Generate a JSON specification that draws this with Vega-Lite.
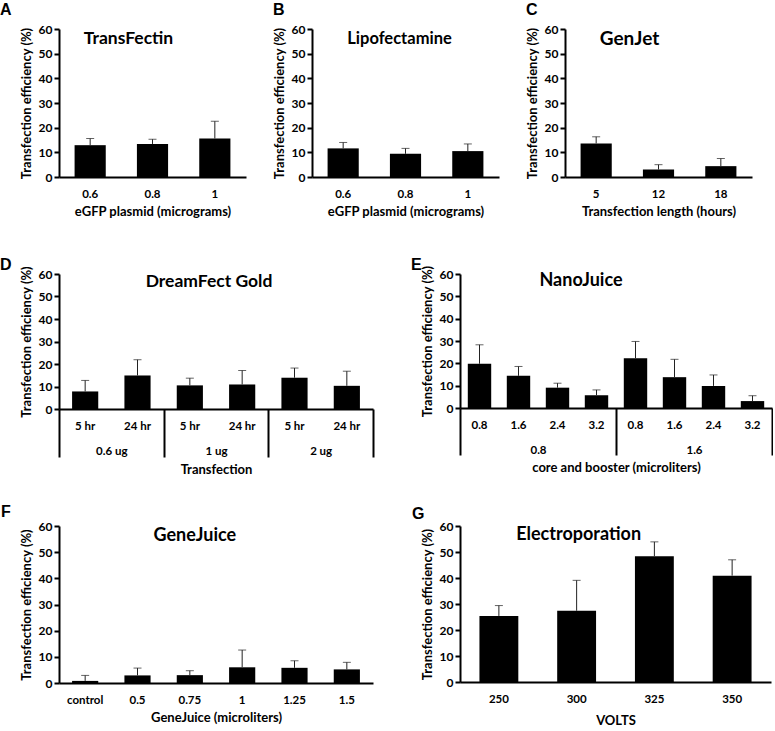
{
  "$schema": "https://vega.github.io/schema/vega-lite/v6.json",
  "padding": {"left": 0, "top": 2, "right": 0, "bottom": 0},
  "background": "white",
  "datasets": {
    "A": [{"x":"0.6","v":12.9,"e":15.6},{"x":"0.8","v":13.4,"e":15.3},{"x":"1","v":15.6,"e":22.6}],
    "B": [{"x":"0.6","v":11.6,"e":14.0},{"x":"0.8","v":9.4,"e":11.6},{"x":"1","v":10.5,"e":13.4}],
    "C": [{"x":"5","v":13.6,"e":16.3},{"x":"12","v":3.0,"e":5.0},{"x":"18","v":4.4,"e":7.5}],
    "D": [{"x":"0.6 ug|5 hr","v":7.8,"e":12.7},{"x":"0.6 ug|24 hr","v":14.9,"e":21.9},{"x":"1 ug|5 hr","v":10.5,"e":13.7},{"x":"1 ug|24 hr","v":10.9,"e":17.1},{"x":"2 ug|5 hr","v":13.9,"e":18.2},{"x":"2 ug|24 hr","v":10.3,"e":16.8}],
    "E": [{"x":"0.8|0.8","v":19.8,"e":28.3},{"x":"0.8|1.6","v":14.4,"e":18.6},{"x":"0.8|2.4","v":9.1,"e":11.1},{"x":"0.8|3.2","v":5.7,"e":8.1},{"x":"1.6|0.8","v":22.3,"e":29.8},{"x":"1.6|1.6","v":13.8,"e":21.8},{"x":"1.6|2.4","v":9.9,"e":14.8},{"x":"1.6|3.2","v":3.1,"e":5.5}],
    "F": [{"x":"control","v":0.8,"e":2.9},{"x":"0.5","v":2.9,"e":5.7},{"x":"0.75","v":3.0,"e":4.7},{"x":"1","v":6.0,"e":12.6},{"x":"1.25","v":5.8,"e":8.5},{"x":"1.5","v":5.2,"e":7.9}],
    "G": [{"x":"250","v":25.4,"e":29.4},{"x":"300","v":27.4,"e":39.1},{"x":"325","v":48.4,"e":53.9},{"x":"350","v":40.9,"e":47.0}]
  },
  "config": {
    "view": {"stroke": null},
    "font": "Lato",
    "axis": {"grid": false, "domainColor": "#000", "domainWidth": 2, "tickColor": "#000", "tickWidth": 2, "labelColor": "#000", "labelFont": "Lato", "labelFontWeight": "bold", "labelFontSize": 11.5, "titleColor": "#000", "titleFont": "Lato", "titleFontWeight": "bold", "titleFontSize": 13},
    "axisX": {"ticks": false, "labelAngle": 0, "labelPadding": 11, "titlePadding": 6},
    "axisY": {"tickSize": 5, "labelPadding": 2, "titlePadding": 5, "tickCount": 6, "labelFontSize": 12},
    "title": {"font": "Liberation Sans", "fontSize": 16, "fontWeight": "bold", "color": "#000", "anchor": "start", "frame": "group", "baseline": "alphabetic"},
    "text": {"font": "Lato", "fontWeight": "bold", "color": "#000", "baseline": "middle"}
  },
  "spacing": 37,
  "vconcat": [
    {
      "hconcat": [
        {
          "width": 187, "height": 148,
          "title": {"text": "A", "dx": -59, "offset": 5},
          "layer": [
            {
              "data": {"name": "A"},
              "encoding": {
                "x": {"field": "x", "type": "nominal", "scale": {"domain": ["0.6","0.8","1"], "paddingInner": 0.5, "paddingOuter": 0.25}, "axis": {"title": "eGFP plasmid (micrograms)"}},
                "y": {"field": "v", "type": "quantitative", "scale": {"domain": [0, 60]}, "axis": {"title": "Transfection efficiency (%)"}}
              },
              "layer": [
                {"mark": {"type": "bar", "color": "#000"}},
                {"mark": {"type": "rule", "color": "#222", "strokeWidth": 1}, "encoding": {"y2": {"field": "e"}}},
                {"mark": {"type": "tick", "color": "#222", "thickness": 1, "size": 8}, "encoding": {"y": {"field": "e", "type": "quantitative"}}}
              ]
            },
            {
              "data": {"values": [{"x": "0.8", "label": "TransFectin"}]},
              "mark": {"type": "text", "dx": -24, "fontSize": 17.5},
              "encoding": {
                "x": {"field": "x", "type": "nominal", "scale": {"domain": ["0.6","0.8","1"], "paddingInner": 0.5, "paddingOuter": 0.25}},
                "y": {"datum": 56, "type": "quantitative"},
                "text": {"field": "label"}
              }
            }
          ]
        },
        {
          "width": 187, "height": 148,
          "title": {"text": "B", "dx": -39, "offset": 5},
          "layer": [
            {
              "data": {"name": "B"},
              "encoding": {
                "x": {"field": "x", "type": "nominal", "scale": {"domain": ["0.6","0.8","1"], "paddingInner": 0.5, "paddingOuter": 0.25}, "axis": {"title": "eGFP plasmid (micrograms)"}},
                "y": {"field": "v", "type": "quantitative", "scale": {"domain": [0, 60]}, "axis": {"title": "Transfection efficiency (%)"}}
              },
              "layer": [
                {"mark": {"type": "bar", "color": "#000"}},
                {"mark": {"type": "rule", "color": "#222", "strokeWidth": 1}, "encoding": {"y2": {"field": "e"}}},
                {"mark": {"type": "tick", "color": "#222", "thickness": 1, "size": 8}, "encoding": {"y": {"field": "e", "type": "quantitative"}}}
              ]
            },
            {
              "data": {"values": [{"x": "0.8", "label": "Lipofectamine"}]},
              "mark": {"type": "text", "dx": -6, "fontSize": 16.5},
              "encoding": {
                "x": {"field": "x", "type": "nominal", "scale": {"domain": ["0.6","0.8","1"], "paddingInner": 0.5, "paddingOuter": 0.25}},
                "y": {"datum": 56, "type": "quantitative"},
                "text": {"field": "label"}
              }
            }
          ]
        },
        {
          "width": 187, "height": 148,
          "title": {"text": "C", "dx": -39, "offset": 5},
          "layer": [
            {
              "data": {"name": "C"},
              "encoding": {
                "x": {"field": "x", "type": "nominal", "scale": {"domain": ["5","12","18"], "paddingInner": 0.5, "paddingOuter": 0.25}, "axis": {"title": "Transfection length (hours)"}},
                "y": {"field": "v", "type": "quantitative", "scale": {"domain": [0, 60]}, "axis": {"title": "Transfection efficiency (%)"}}
              },
              "layer": [
                {"mark": {"type": "bar", "color": "#000"}},
                {"mark": {"type": "rule", "color": "#222", "strokeWidth": 1}, "encoding": {"y2": {"field": "e"}}},
                {"mark": {"type": "tick", "color": "#222", "thickness": 1, "size": 8}, "encoding": {"y": {"field": "e", "type": "quantitative"}}}
              ]
            },
            {
              "data": {"values": [{"x": "12", "label": "GenJet"}]},
              "mark": {"type": "text", "dx": -29, "fontSize": 19},
              "encoding": {
                "x": {"field": "x", "type": "nominal", "scale": {"domain": ["5","12","18"], "paddingInner": 0.5, "paddingOuter": 0.25}},
                "y": {"datum": 56, "type": "quantitative"},
                "text": {"field": "label"}
              }
            }
          ]
        }
      ],
      "spacing": 66,
      "bounds": "flush"
    },
    {
      "concat": [
        {
          "width": 314, "height": 135,
          "title": {"text": "D", "dx": -59, "offset": -7},
          "layer": [
            {
              "data": {"name": "D"},
              "encoding": {
                "x": {"field": "x", "type": "nominal", "scale": {"domain": ["0.6 ug|5 hr","0.6 ug|24 hr","1 ug|5 hr","1 ug|24 hr","2 ug|5 hr","2 ug|24 hr"], "paddingInner": 0.5, "paddingOuter": 0.25}, "axis": {"title": null, "labelExpr": "split(datum.value, '|')[1]"}},
                "y": {"field": "v", "type": "quantitative", "scale": {"domain": [0, 60]}, "axis": {"title": "Transfection efficiency (%)"}}
              },
              "layer": [
                {"mark": {"type": "bar", "color": "#000"}},
                {"mark": {"type": "rule", "color": "#222", "strokeWidth": 1}, "encoding": {"y2": {"field": "e"}}},
                {"mark": {"type": "tick", "color": "#222", "thickness": 1, "size": 8}, "encoding": {"y": {"field": "e", "type": "quantitative"}}}
              ],
              "resolve": {"scale": {"x": "shared"}}
            },
            {
              "data": {"values": [{"g": "1 ug", "label": "DreamFect Gold"}]},
              "mark": {"type": "text", "dx": -7, "fontSize": 17.5},
              "encoding": {
                "x": {"field": "g", "type": "nominal", "scale": {"domain": ["0.6 ug","1 ug","2 ug"], "paddingInner": 0, "paddingOuter": 0}, "axis": {"orient": "bottom", "title": "Transfection", "domain": false, "ticks": true, "tickBand": "extent", "tickSize": 48, "tickWidth": 2, "labelPadding": -12, "titlePadding": 5}},
                "y": {"datum": 56.4, "type": "quantitative"},
                "text": {"field": "label"}
              }
            }
          ],
          "resolve": {"scale": {"x": "independent"}}
        },
        {
          "width": 312, "height": 134,
          "title": {"text": "E", "dx": -49, "offset": -8},
          "layer": [
            {
              "data": {"name": "E"},
              "encoding": {
                "x": {"field": "x", "type": "nominal", "scale": {"domain": ["0.8|0.8","0.8|1.6","0.8|2.4","0.8|3.2","1.6|0.8","1.6|1.6","1.6|2.4","1.6|3.2"], "paddingInner": 0.4, "paddingOuter": 0.2}, "axis": {"title": null, "labelExpr": "split(datum.value, '|')[1]"}},
                "y": {"field": "v", "type": "quantitative", "scale": {"domain": [0, 60]}, "axis": {"title": "Transfection efficiency (%)"}}
              },
              "layer": [
                {"mark": {"type": "bar", "color": "#000"}},
                {"mark": {"type": "rule", "color": "#222", "strokeWidth": 1}, "encoding": {"y2": {"field": "e"}}},
                {"mark": {"type": "tick", "color": "#222", "thickness": 1, "size": 8}, "encoding": {"y": {"field": "e", "type": "quantitative"}}}
              ],
              "resolve": {"scale": {"x": "shared"}}
            },
            {
              "data": {"values": [{"g": "0.8", "label": "NanoJuice"}]},
              "mark": {"type": "text", "dx": 43, "fontSize": 18},
              "encoding": {
                "x": {"field": "g", "type": "nominal", "scale": {"domain": ["0.8","1.6"], "paddingInner": 0, "paddingOuter": 0}, "axis": {"orient": "bottom", "title": "core and booster (microliters)", "domain": false, "ticks": true, "tickBand": "extent", "tickSize": 47, "tickWidth": 2, "labelPadding": -11, "titlePadding": 5}},
                "y": {"datum": 56.9, "type": "quantitative"},
                "text": {"field": "label"}
              }
            }
          ],
          "resolve": {"scale": {"x": "independent"}}
        },
        {
          "width": 314, "height": 157,
          "title": {"text": "F", "dx": -58, "offset": 0},
          "layer": [
            {
              "data": {"name": "F"},
              "encoding": {
                "x": {"field": "x", "type": "nominal", "scale": {"domain": ["control","0.5","0.75","1","1.25","1.5"], "paddingInner": 0.5, "paddingOuter": 0.25}, "axis": {"title": "GeneJuice (microliters)"}},
                "y": {"field": "v", "type": "quantitative", "scale": {"domain": [0, 60]}, "axis": {"title": "Transfection efficiency (%)"}}
              },
              "layer": [
                {"mark": {"type": "bar", "color": "#000"}},
                {"mark": {"type": "rule", "color": "#222", "strokeWidth": 1}, "encoding": {"y2": {"field": "e"}}},
                {"mark": {"type": "tick", "color": "#222", "thickness": 1, "size": 8}, "encoding": {"y": {"field": "e", "type": "quantitative"}}}
              ]
            },
            {
              "data": {"values": [{"x": "0.75", "label": "GeneJuice"}]},
              "mark": {"type": "text", "dx": 5, "fontSize": 18},
              "encoding": {
                "x": {"field": "x", "type": "nominal", "scale": {"domain": ["control","0.5","0.75","1","1.25","1.5"], "paddingInner": 0.5, "paddingOuter": 0.25}},
                "y": {"datum": 56, "type": "quantitative"},
                "text": {"field": "label"}
              }
            }
          ]
        },
        {
          "width": 311, "height": 156,
          "title": {"text": "G", "dx": -48, "offset": -2},
          "layer": [
            {
              "data": {"name": "G"},
              "encoding": {
                "x": {"field": "x", "type": "nominal", "scale": {"domain": ["250","300","325","350"], "paddingInner": 0.5, "paddingOuter": 0.25}, "axis": {"title": "VOLTS", "titlePadding": 10}},
                "y": {"field": "v", "type": "quantitative", "scale": {"domain": [0, 60]}, "axis": {"title": "Transfection efficiency (%)"}}
              },
              "layer": [
                {"mark": {"type": "bar", "color": "#000"}},
                {"mark": {"type": "rule", "color": "#222", "strokeWidth": 1}, "encoding": {"y2": {"field": "e"}}},
                {"mark": {"type": "tick", "color": "#222", "thickness": 1, "size": 8}, "encoding": {"y": {"field": "e", "type": "quantitative"}}}
              ]
            },
            {
              "data": {"values": [{"x": "300", "label": "Electroporation"}]},
              "mark": {"type": "text", "dx": 2, "fontSize": 18},
              "encoding": {
                "x": {"field": "x", "type": "nominal", "scale": {"domain": ["250","300","325","350"], "paddingInner": 0.5, "paddingOuter": 0.25}},
                "y": {"datum": 56.7, "type": "quantitative"},
                "text": {"field": "label"}
              }
            }
          ]
        }
      ],
      "columns": 2,
      "spacing": {"row": 117, "column": 87},
      "bounds": "flush",
      "align": "each"
    }
  ]
}
